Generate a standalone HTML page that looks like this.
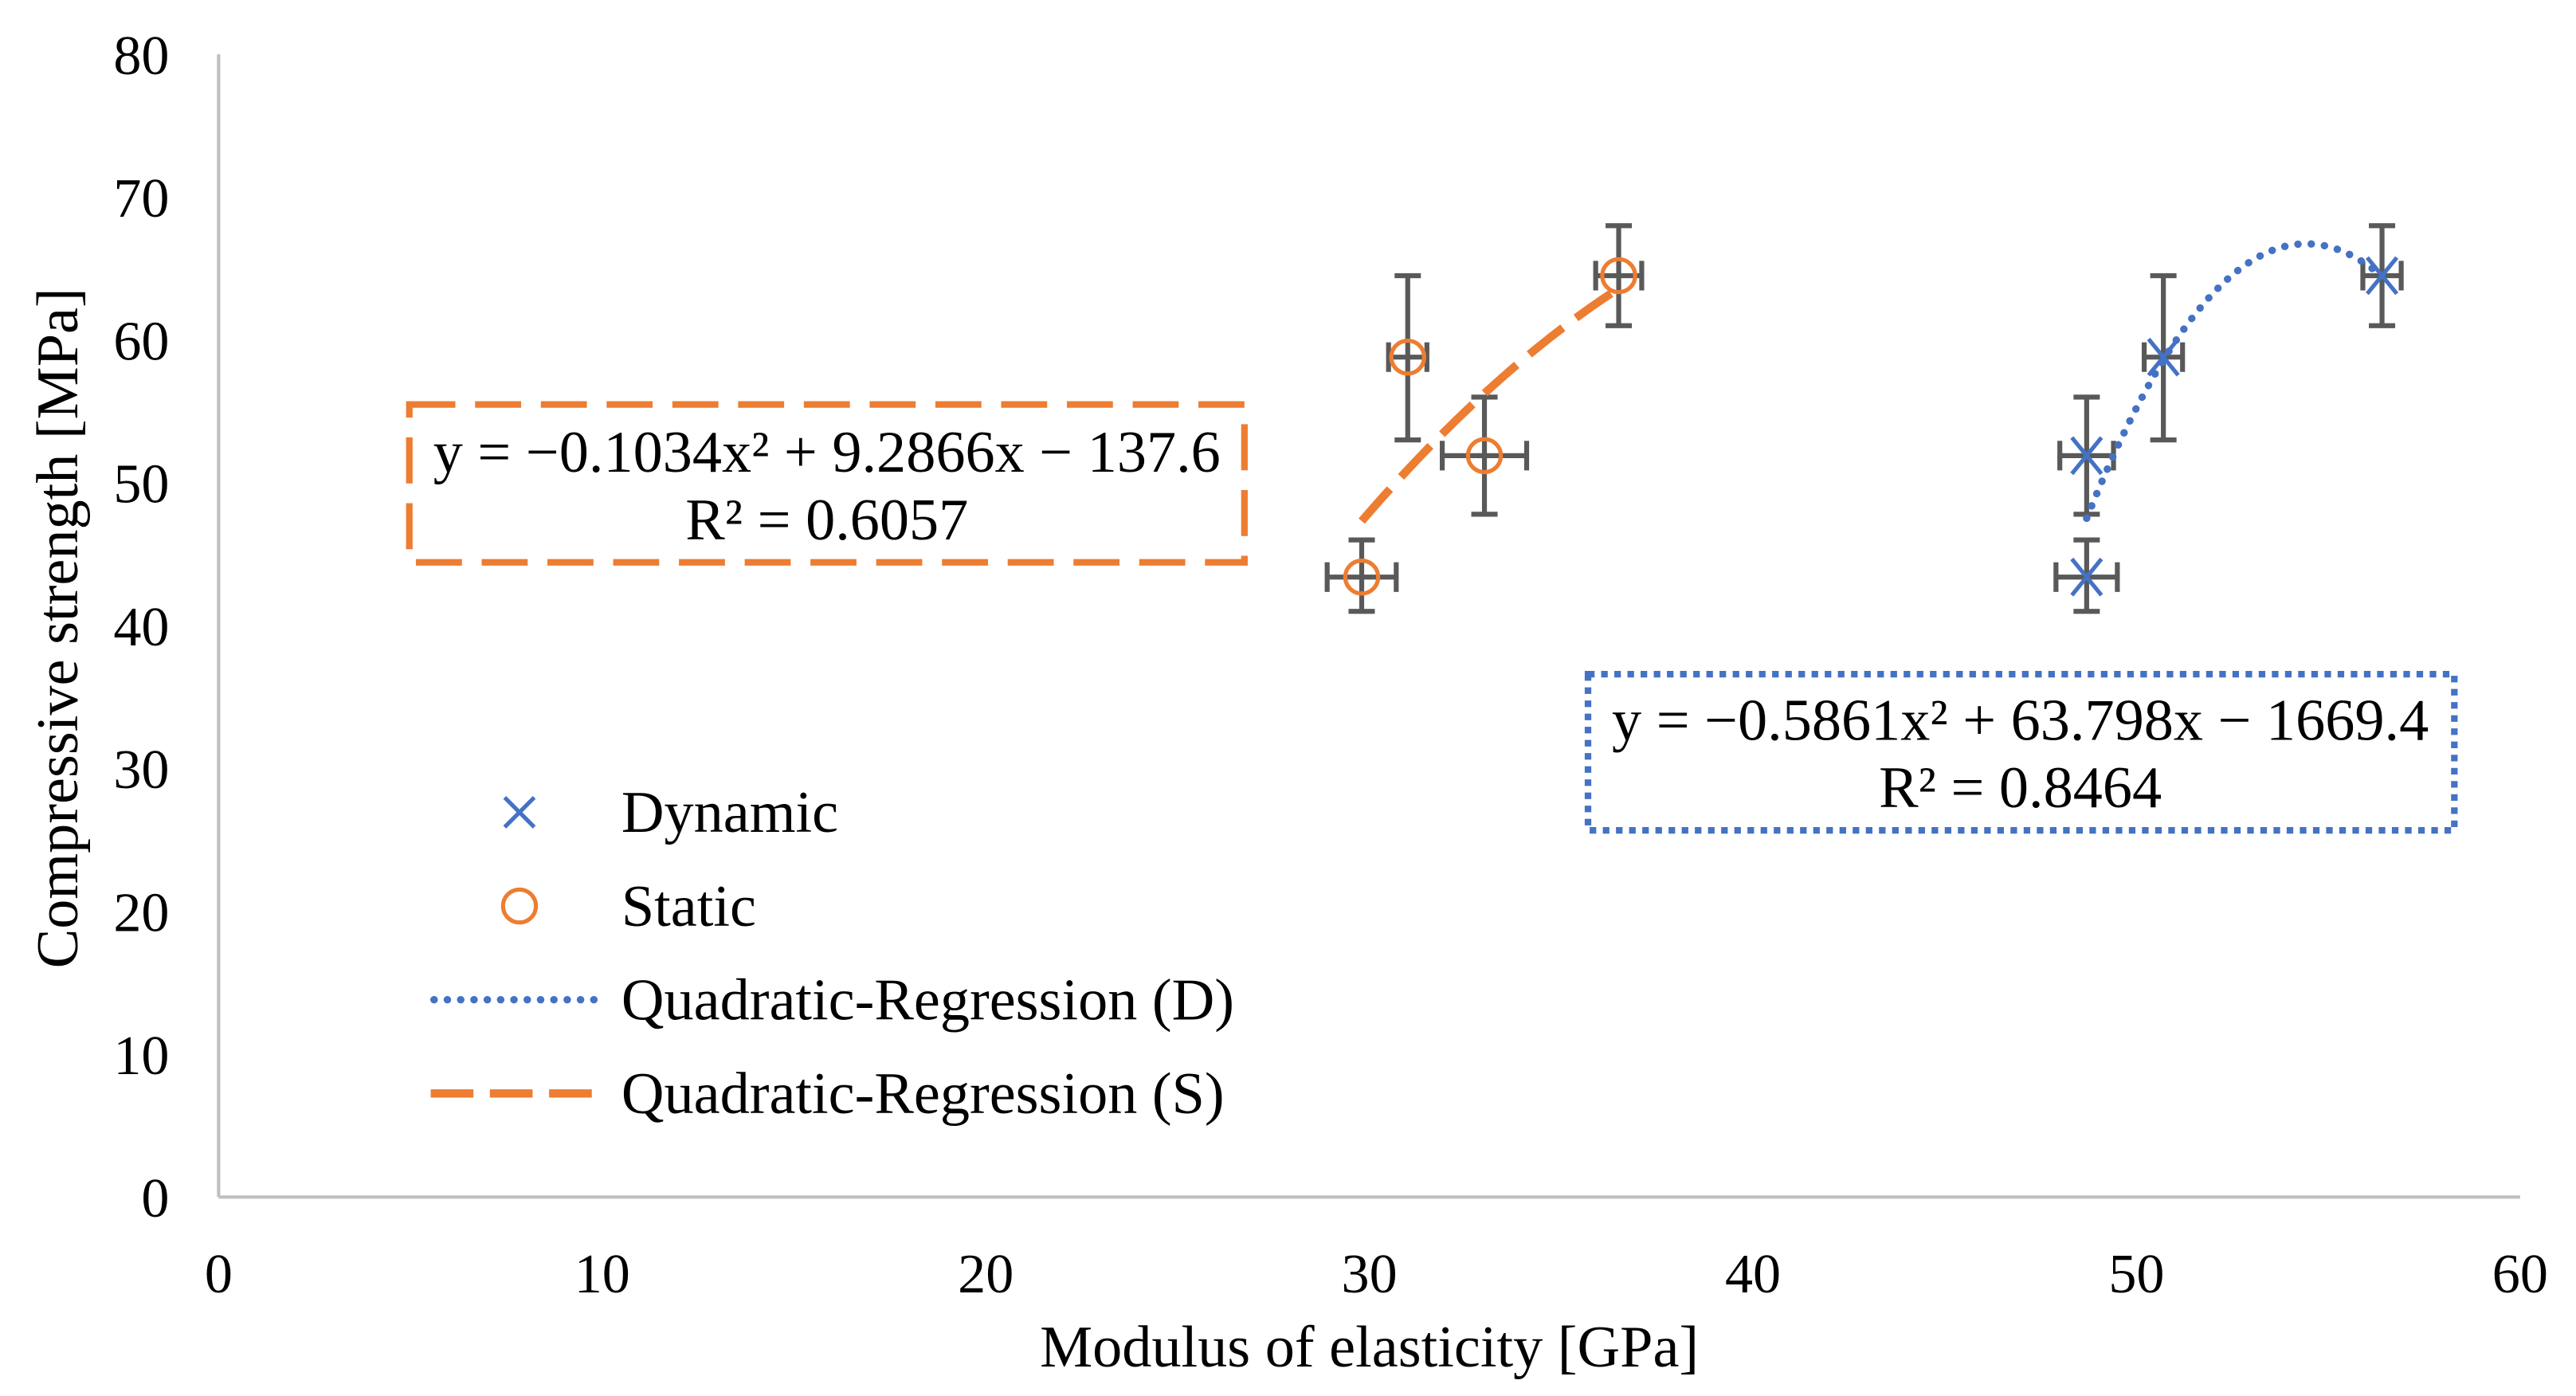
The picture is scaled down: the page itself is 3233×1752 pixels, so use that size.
<!DOCTYPE html>
<html><head><meta charset="utf-8"><style>
html,body{margin:0;padding:0;background:#fff}
svg{display:block}
text{font-family:"Liberation Serif",serif;fill:#000}
</style></head><body>
<svg id="chart" width="3233" height="1752" viewBox="0 0 1567 849" preserveAspectRatio="none" xmlns="http://www.w3.org/2000/svg">
<rect x="0" y="0" width="1567" height="849" fill="#fff"/>
<g id="axes"></g>
<g id="marks"></g>
<text x="833" y="831" font-size="36" text-anchor="middle">Modulus of elasticity [GPa]</text>
<text transform="translate(47,382) rotate(-90)" font-size="36" text-anchor="middle">Compressive strength [MPa]</text>
<g>
<rect x="249" y="246" width="508" height="96" fill="none" stroke="#ED7D31" stroke-width="4" stroke-dasharray="28,12"/>
<text x="503" y="287" font-size="36" text-anchor="middle">y = −0.1034x² + 9.2866x − 137.6</text>
<text x="503" y="328" font-size="36" text-anchor="middle">R² = 0.6057</text>
</g>
<g>
<rect x="966" y="410" width="527" height="95" fill="none" stroke="#4472C4" stroke-width="4" stroke-dasharray="4,4"/>
<text x="1229" y="450" font-size="36" text-anchor="middle">y = −0.5861x² + 63.798x − 1669.4</text>
<text x="1229" y="491" font-size="36" text-anchor="middle">R² = 0.8464</text>
</g>
<g>
<g>
<path d="M307 485 L325 503 M325 485 L307 503" stroke="#4472C4" stroke-width="2.5"/>
<text x="378" y="506" font-size="36">Dynamic</text></g>
<g>
<circle cx="316" cy="551" r="10" fill="none" stroke="#ED7D31" stroke-width="2.5"/>
<text x="378" y="563" font-size="36">Static</text></g>
<g>
<line x1="264" y1="608" x2="368" y2="608" stroke="#4472C4" stroke-width="4.5" stroke-dasharray="0.1,8" stroke-linecap="round"/>
<text x="378" y="620" font-size="36">Quadratic-Regression (D)</text></g>
<g>
<line x1="262" y1="665" x2="370" y2="665" stroke="#ED7D31" stroke-width="5" stroke-dasharray="26,10"/>
<text x="378" y="677" font-size="36">Quadratic-Regression (S)</text></g>
</g>
</svg>
<script>
const xTicks=[0,10,20,30,40,50,60];
const yTicks=[0,10,20,30,40,50,60,70,80];
const staticX=[29.8,31.0,33.0,36.5];
const staticY=[43.4,58.8,51.9,64.5];
const staticXErr=[0.9,0.5,1.1,0.6];
const staticYLo=[41.0,53.0,47.8,61.0];
const staticYHi=[46.0,64.5,56.0,68.0];
const dynX=[48.7,48.7,50.7,56.4];
const dynY=[43.4,51.9,58.8,64.5];
const dynXErr=[0.8,0.7,0.5,0.5];
const dynYLo=[41.0,47.8,53.0,61.0];
const dynYHi=[46.0,56.0,64.5,68.0];
const coefS=[-0.1034,9.2866,-137.6];
const coefD=[-0.5861,63.798,-1669.4];

const NS="http://www.w3.org/2000/svg";
const X0=133,X1=1533,Y0=728,Y1=33;
const sx=v=>X0+(v-0)/(60-0)*(X1-X0);
const sy=v=>Y0-(v-0)/(80-0)*(Y0-Y1);
function mk(tag,attrs,parent){const e=document.createElementNS(NS,tag);for(const k in attrs)e.setAttribute(k,attrs[k]);parent.appendChild(e);return e;}
const axes=document.getElementById('axes'),marks=document.getElementById('marks');
let a=mk('line',{x1:X0,y1:Y1,x2:X0,y2:Y0,stroke:'#BFBFBF','stroke-width':2},axes);


a=mk('line',{x1:X0,y1:Y0,x2:X1,y2:Y0,stroke:'#BFBFBF','stroke-width':2},axes);


xTicks.forEach(t=>{const e=mk('text',{x:sx(t),y:786,'font-size':34,'text-anchor':'middle'},axes);e.textContent=t;

});
yTicks.forEach(t=>{const e=mk('text',{x:103,y:sy(t)+12,'font-size':34,'text-anchor':'end'},axes);e.textContent=t;

});
function curve(c,xa,xb,color,dash,w,cap,name){let d='';for(let i=0;i<=60;i++){const x=xa+(xb-xa)*i/60;const y=c[0]*x*x+c[1]*x+c[2];d+=(i?'L':'M')+sx(x).toFixed(2)+' '+sy(y).toFixed(2);}
const p=mk('path',{d:d,fill:'none',stroke:color,'stroke-width':w,'stroke-dasharray':dash,'stroke-linecap':cap},marks);

}
function errbars(xs,ys,xe,lo,hi,name){for(let i=0;i<xs.length;i++){const g=mk('g',{stroke:'#595959','stroke-width':3,fill:'none'},marks);


const cx=sx(xs[i]),cy=sy(ys[i]),l=sx(xs[i]-xe[i]),r=sx(xs[i]+xe[i]),t=sy(hi[i]),b=sy(lo[i]);
mk('line',{x1:cx,y1:t,x2:cx,y2:b},g);mk('line',{x1:cx-8,y1:t,x2:cx+8,y2:t},g);mk('line',{x1:cx-8,y1:b,x2:cx+8,y2:b},g);
mk('line',{x1:l,y1:cy,x2:r,y2:cy},g);mk('line',{x1:l,y1:cy-9,x2:l,y2:cy+9},g);mk('line',{x1:r,y1:cy-9,x2:r,y2:cy+9},g);}}
errbars(staticX,staticY,staticXErr,staticYLo,staticYHi,'static-error-bar');
errbars(dynX,dynY,dynXErr,dynYLo,dynYHi,'dynamic-error-bar');
curve(coefS,Math.min(...staticX),Math.max(...staticX),'#ED7D31','26,10',5,'butt','static-trendline');
curve(coefD,Math.min(...dynX),Math.max(...dynX),'#4472C4','0.1,8',4.5,'round','dynamic-trendline');
staticX.forEach((x,i)=>{const c=mk('circle',{cx:sx(x),cy:sy(staticY[i]),r:10,fill:'none',stroke:'#ED7D31','stroke-width':2.5},marks);

});
dynX.forEach((x,i)=>{const cx=sx(x),cy=sy(dynY[i]);const p=mk('path',{d:`M${cx-9} ${cy-11}L${cx+9} ${cy+11}M${cx+9} ${cy-11}L${cx-9} ${cy+11}`,stroke:'#4472C4','stroke-width':2.5},marks);

});
</script>
</body></html>
